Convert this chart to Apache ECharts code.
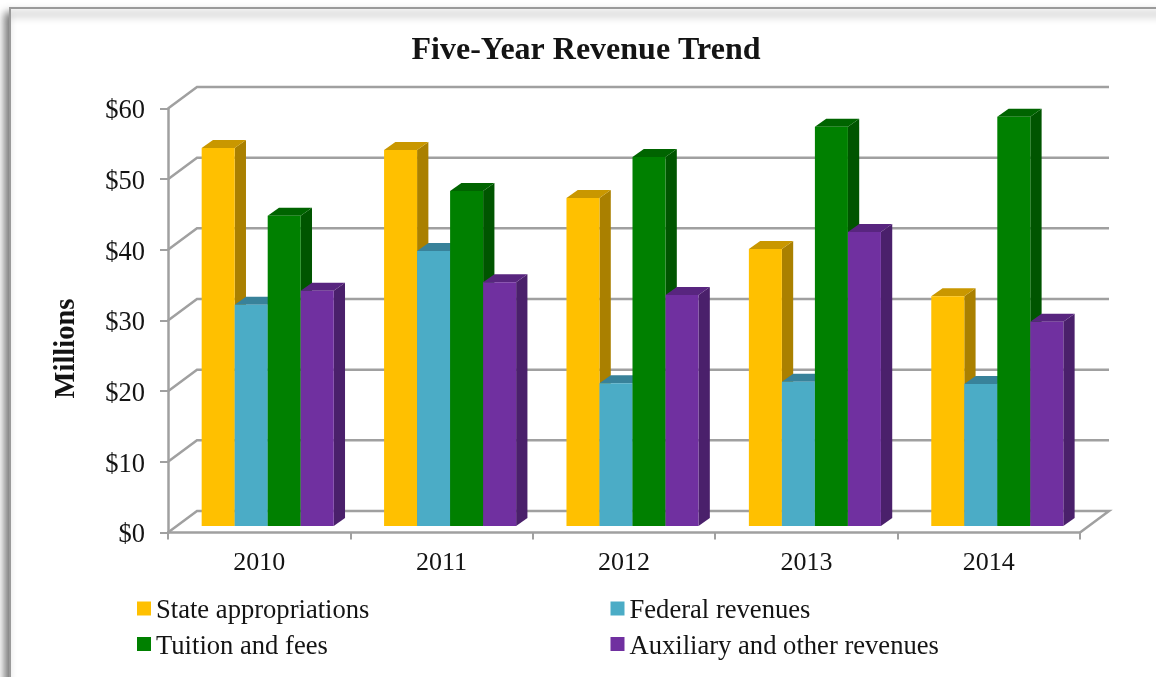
<!DOCTYPE html>
<html><head><meta charset="utf-8">
<style>html,body{margin:0;padding:0;background:#fff}#c{width:1156px;height:677px}</style>
<script src="https://cdn.jsdelivr.net/npm/echarts@6/dist/echarts.min.js"></script>
</head><body><div id="c"></div>
<script>
const categories = ['2010','2011','2012','2013','2014'];
const stateAppropriations = [53.5,53.2,46.4,39.2,32.5];
const federalRevenues = [31.3,38.9,20.2,20.4,20.1];
const tuitionAndFees = [43.9,47.4,52.2,56.5,57.9];
const auxiliaryRevenues = [33.3,34.5,32.7,41.6,28.9];
const yTicks = [0,10,20,30,40,50,60];
const font = '"Liberation Serif","Times New Roman",serif';
const ink = '#141414', gridGray = '#a0a0a0';
// Projection of the 3D look
const wall = {dx:29, dy:-21.5}, barFront = {dx:8.5, dy:-6.5}, barDepth = {dx:11.3, dy:-8};
const barWidthRatio = 0.181;

function barSeries(name, values, slot, front, top, side){
  return {
    name, type:'custom', coordinateSystem:'cartesian2d', z:5,
    itemStyle:{color:front}, silent:true,
    data: values.map((v,i)=>[i,v]),
    encode:{x:0,y:1},
    renderItem(params, api){
      const c = api.coord([api.value(0), api.value(1)]);
      const base = api.coord([api.value(0), 0])[1] + barFront.dy;
      const catW = api.size([1,0])[0];
      const w = catW*barWidthRatio;
      const x0 = c[0] - 2*w + slot*w + barFront.dx, x1 = x0 + w;
      const y = c[1] + barFront.dy;
      const dx = barDepth.dx, dy = barDepth.dy;
      return {type:'group', children:[
        {type:'polygon', shape:{points:[[x1,y],[x1+dx,y+dy],[x1+dx,base+dy],[x1,base]]}, style:{fill:side}},
        {type:'polygon', shape:{points:[[x0,y],[x0+dx,y+dy],[x1+dx,y+dy],[x1,y]]}, style:{fill:top}},
        {type:'rect', shape:{x:x0,y:y,width:w,height:base-y}, style:{fill:front}}
      ]};
    }
  };
}
const legendText = {fontFamily:font,fontSize:26.6,color:ink,
  rich:{t:{fontFamily:font,fontSize:26.6,color:ink,padding:[6,0,0,0]}}};
const chart = echarts.init(document.getElementById('c'), null, {renderer:'canvas'});
chart.setOption({
  animation:false,
  backgroundColor:'#ffffff',
  title:{text:'Five-Year Revenue Trend', left:581, textAlign:'center', top:30,
    textStyle:{fontFamily:font,fontSize:32,fontWeight:'bold',color:ink}},
  graphic:[{type:'rect', z:-10, silent:true, shape:{x:10,y:8,width:1300,height:900},
    style:{fill:'#fff',stroke:'#9a9a9a',lineWidth:2,shadowBlur:8,shadowColor:'rgba(0,0,0,0.55)',shadowOffsetX:-4,shadowOffsetY:6}}],
  grid:{left:168,right:76,top:108.5,bottom:144.5,containLabel:false},
  xAxis:{type:'category',data:categories,
    axisLine:{show:true,lineStyle:{color:gridGray,width:2.5}},
    axisTick:{show:true,alignWithLabel:false,length:7,lineStyle:{color:gridGray,width:2}},
    axisLabel:{fontFamily:font,fontSize:26,color:ink,margin:18},splitLine:{show:false}},
  yAxis:{type:'value',min:0,max:60,interval:10,name:'Millions',nameLocation:'middle',nameGap:87,
    nameTextStyle:{fontFamily:font,fontSize:28.5,fontWeight:'bold',color:ink,padding:[0,56,0,0]},
    axisLine:{show:true,lineStyle:{color:gridGray,width:2.5}},
    axisTick:{show:true,length:8,lineStyle:{color:gridGray,width:2}},
    axisLabel:{fontFamily:font,fontSize:26.5,color:ink,margin:23,verticalAlign:'top',lineHeight:6,formatter:v=>'$'+v},
    splitLine:{show:false}},
  legend:[
    {left:132,top:593,orient:'vertical',itemWidth:14,itemHeight:14,itemGap:8.5,icon:'rect',
      data:['State appropriations','Tuition and fees'],
      formatter:'{t|{name}}',textStyle:legendText},
    {left:605.5,top:593,orient:'vertical',itemWidth:14,itemHeight:14,itemGap:8.5,icon:'rect',
      data:['Federal revenues','Auxiliary and other revenues'],
      formatter:'{t|{name}}',textStyle:legendText}
  ],
  series:[
    {type:'custom',name:'walls',coordinateSystem:'cartesian2d',z:1,silent:true,
      data:yTicks.map(t=>[0,t]),encode:{x:0,y:1},
      renderItem(params,api){
        const y = api.coord([0,api.value(1)])[1];
        const g = params.coordSys, x0 = g.x, x1 = g.x+g.width;
        const pts = [[x0,y],[x0+wall.dx,y+wall.dy],[x1+wall.dx,y+wall.dy]];
        if(api.value(1)===0) pts.push([x1,y]);
        return {type:'polyline',shape:{points:pts},style:{stroke:gridGray,lineWidth:2.5,fill:null}};
      }},
    barSeries('State appropriations',stateAppropriations,0,'#FFC000','#C99700','#AA8000'),
    barSeries('Federal revenues',federalRevenues,1,'#4BACC6','#38829A','#327F95'),
    barSeries('Tuition and fees',tuitionAndFees,2,'#008000','#006400','#005500'),
    barSeries('Auxiliary and other revenues',auxiliaryRevenues,3,'#7030A0','#58257F','#4A206B')
  ]
});
</script></body></html>
